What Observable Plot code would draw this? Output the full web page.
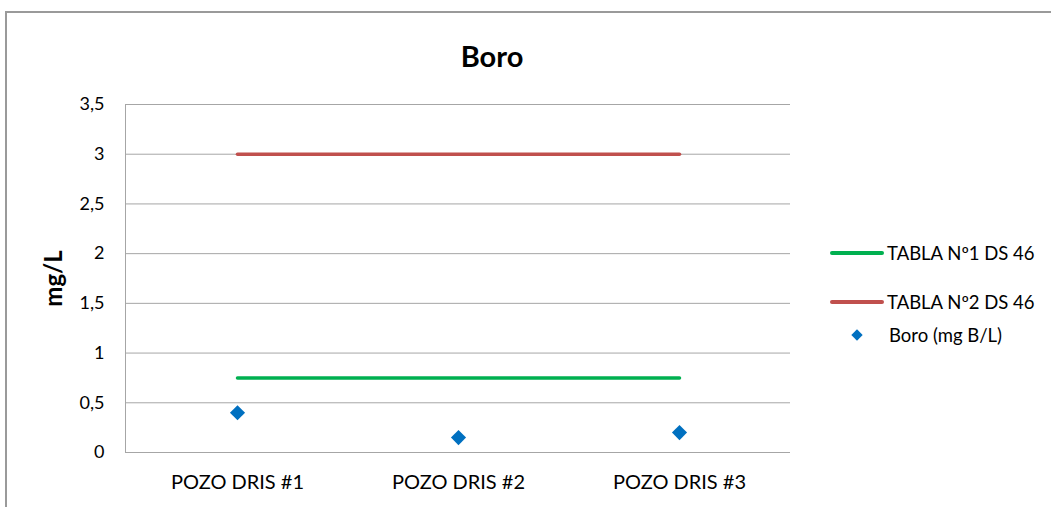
<!DOCTYPE html>
<html><head><meta charset="utf-8">
<script src="https://cdn.jsdelivr.net/npm/d3@7"></script>
<script src="https://cdn.jsdelivr.net/npm/@observablehq/plot@0.6"></script>
<style>
body{margin:0;background:#fff;font-family:Lato,"Open Sans",sans-serif;}
#wrap{position:relative;width:1051px;height:507px;overflow:hidden;}
#border{position:absolute;left:5px;top:11px;width:1100px;height:600px;border:2px solid #9a9a9a;box-sizing:border-box;}
#title{position:absolute;left:392px;width:200px;top:38px;text-align:center;font-weight:bold;font-size:29px;line-height:36px;color:#000;}
.leg{position:absolute;left:830px;height:20px;display:flex;align-items:center;font-size:18.5px;color:#000;white-space:nowrap;}
.leg .sw{width:54px;display:flex;justify-content:center;align-items:center;margin-right:3px;}
#chart{position:absolute;left:0;top:0;}
</style></head>
<body><div id="wrap"><div id="border"></div><div id="chart"></div><div id="title"></div></div>
<script>
const categories = ["POZO DRIS #1", "POZO DRIS #2", "POZO DRIS #3"];
const boro = [0.4, 0.15, 0.2];
const tabla1 = [0.75, 0.75, 0.75];
const tabla2 = [3, 3, 3];
const yTicks = [0, 0.5, 1, 1.5, 2, 2.5, 3, 3.5];
const seriesNames = ["TABLA Nº1 DS 46", "TABLA Nº2 DS 46", "Boro (mg B/L)"];
const seriesColors = ["#00b050", "#c0504d", "#0070c0"];
const titleText = "Boro";
const yLabel = "mg/L";

const rows = categories.map((c, i) => ({cat: c, boro: boro[i], t1: tabla1[i], t2: tabla2[i]}));
const fmt = d => String(d).replace(".", ",");

const chart = Plot.plot({
  width: 1051, height: 507,
  marginLeft: 125, marginRight: 261, marginTop: 104, marginBottom: 55,
  style: {fontFamily: "Lato, 'Open Sans', sans-serif", color: "#000", background: "transparent"},
  x: {type: "point", domain: categories, padding: 0.5},
  y: {domain: [0, 3.5]},
  marks: [
    Plot.gridY(yTicks, {stroke: "#a6a6a6", strokeOpacity: 1, strokeWidth: 1}),
    Plot.frame({anchor: "left", stroke: "#a6a6a6"}),
    Plot.axisY({ticks: yTicks, tickSize: 0, tickPadding: 21, tickFormat: fmt, fontSize: 18, label: null}),
    Plot.axisY({ticks: [], tickSize: 0, label: yLabel, labelAnchor: "center", labelOffset: 81, labelArrow: "none", fontSize: 24, fontWeight: "bold"}),
    Plot.axisX({tickSize: 0, tickPadding: 22, fontSize: 20, label: null}),
    Plot.line(rows, {x: "cat", y: "t1", stroke: seriesColors[0], strokeWidth: 3.5}),
    Plot.line(rows, {x: "cat", y: "t2", stroke: seriesColors[1], strokeWidth: 3.5}),
    Plot.dot(rows, {x: "cat", y: "boro", symbol: "diamond2", r: 6.8, fill: seriesColors[2], stroke: "none"})
  ]
});
document.getElementById("chart").appendChild(chart);
document.getElementById("title").textContent = titleText;

const legTops = [243, 292, 325];
const wrap = document.getElementById("wrap");
seriesNames.forEach((name, i) => {
  const d = document.createElement("div");
  d.className = "leg";
  d.style.top = legTops[i] + "px";
  const sw = document.createElement("div");
  sw.className = "sw";
  if (i < 2) {
    sw.innerHTML = `<div style="width:54px;height:3.5px;background:${seriesColors[i]};border-radius:2px"></div>`;
  } else {
    sw.innerHTML = `<div style="width:8px;height:8px;background:${seriesColors[i]};transform:rotate(45deg)"></div>`;
  }
  const t = document.createElement("span");
  t.textContent = name;
  if (i === 2) t.style.marginLeft = "2px";
  d.appendChild(sw); d.appendChild(t);
  wrap.appendChild(d);
});
</script></body></html>
